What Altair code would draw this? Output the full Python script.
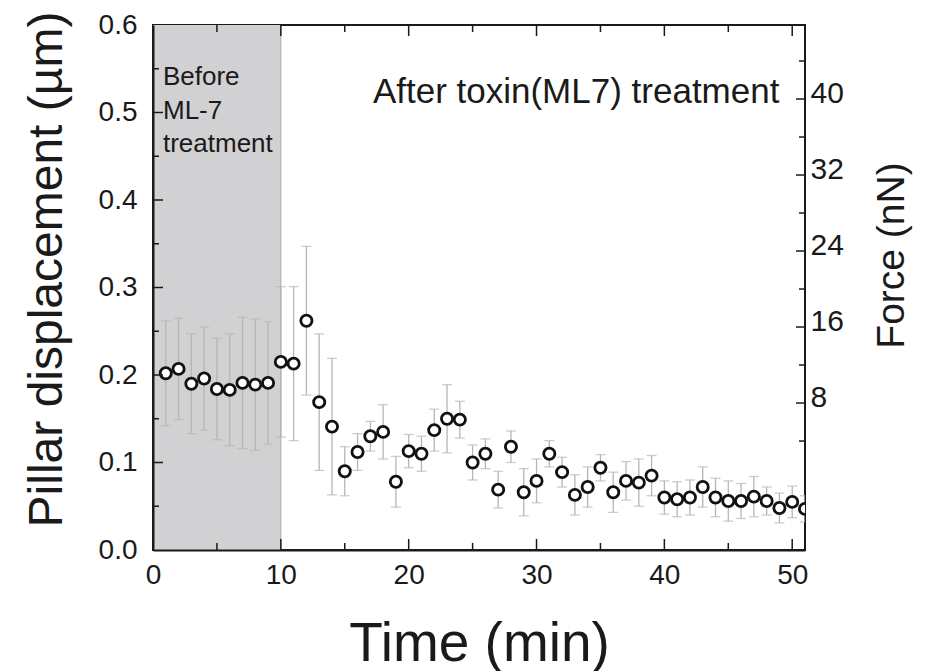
import altair as alt
import pandas as pd

# ---------------- data ----------------
time_min = list(range(1, 52))
displacement = [0.202, 0.207, 0.190, 0.196, 0.184, 0.183, 0.191, 0.189, 0.191, 0.215,
                0.213, 0.262, 0.169, 0.141, 0.090, 0.112, 0.130, 0.135, 0.078, 0.113,
                0.110, 0.137, 0.150, 0.149, 0.100, 0.110, 0.069, 0.118, 0.066, 0.079,
                0.110, 0.089, 0.063, 0.072, 0.094, 0.066, 0.079, 0.077, 0.085, 0.060,
                0.058, 0.060, 0.072, 0.060, 0.056, 0.056, 0.061, 0.056, 0.048, 0.055, 0.047]
error = [0.060, 0.058, 0.057, 0.059, 0.058, 0.064, 0.075, 0.075, 0.070, 0.086,
         0.088, 0.085, 0.078, 0.078, 0.028, 0.021, 0.017, 0.031, 0.029, 0.019,
         0.020, 0.024, 0.039, 0.021, 0.020, 0.017, 0.021, 0.018, 0.027, 0.025,
         0.015, 0.017, 0.023, 0.023, 0.015, 0.023, 0.022, 0.027, 0.023, 0.019,
         0.020, 0.020, 0.023, 0.022, 0.023, 0.020, 0.023, 0.016, 0.017, 0.018, 0.015]

x_labels = [0, 10, 20, 30, 40, 50]
x_major = [10, 20, 30, 40, 50]
x_minor = [5, 15, 25, 35, 45]
y_labels = [0.0, 0.1, 0.2, 0.3, 0.4, 0.5, 0.6]
y_major = [0.1, 0.2, 0.3, 0.4, 0.5]
y_minor = [0.05, 0.15, 0.25, 0.35, 0.45, 0.55]
force_major = [8, 16, 24, 32, 40]
force_minor = [4, 12, 20, 28, 36, 44]

shade_start, shade_end = 0, 10
before_label = "Before\nML-7\ntreatment"
after_label = "After toxin(ML7) treatment"
x_title = "Time (min)"
y_title = "Pillar displacement  (µm)"
f_title = "Force (nN)"

# ---------------- styling ----------------
FONT = "Liberation Sans"
INK = "#1a1a1a"
GREY_BAR = "#b6b6b6"
SHADE = "#d1d0d2"

x_scale = alt.Scale(domain=[0, 51], nice=False, zero=False)
y_scale = alt.Scale(domain=[0, 0.6], nice=False, zero=False)
f_scale = alt.Scale(domain=[-7.47, 47.79], nice=False, zero=False)

df = pd.DataFrame({"t": time_min, "d": displacement, "e": error})
df["lo"] = df["d"] - df["e"]
df["hi"] = df["d"] + df["e"]

one = pd.DataFrame({"k": [0]})

x_axis = alt.Axis(values=x_labels, title=x_title, tickSize=0, labelPadding=11,
                  labelFontSize=28, titleFontSize=55, titleY=110,
                  titleBaseline="alphabetic", domain=True, domainColor=INK,
                  domainWidth=2, grid=False, zindex=1, labelFlush=False,
                  labelOverlap=False)
y_axis = alt.Axis(values=y_labels, format=".1f", title=y_title, tickSize=0,
                  labelPadding=16, labelFontSize=28, titleFontSize=48,
                  titleAngle=270, titleBaseline="alphabetic", titleX=-92,
                  titleY=244, domain=True, domainColor=INK, domainWidth=2,
                  grid=False, zindex=1, labelFlush=False, labelOverlap=False)
f_axis = alt.Axis(orient="right", values=force_major, tickSize=0,
                  labelPadding=5, labelFontSize=30, labelOffset=-6,
                  title=f_title, titleAngle=270, titleBaseline="alphabetic",
                  titleX=98, titleY=230, titleFontSize=39, domain=False,
                  grid=False, labelFlush=False, labelOverlap=False)

# shaded "before" region carries the axes (first layer)
shade = alt.Chart(pd.DataFrame({"x0": [shade_start], "x1": [shade_end],
                                "y0": [y_labels[0]], "y1": [y_labels[-1]]})).mark_rect(
    color=SHADE).encode(
    x=alt.X("x0:Q", scale=x_scale, axis=x_axis), x2="x1:Q",
    y=alt.Y("y0:Q", scale=y_scale, axis=y_axis), y2="y1:Q")

edge = alt.Chart(pd.DataFrame({"x": [shade_end]})).mark_rule(
    color="#a8a8a8", strokeWidth=1).encode(
    x=alt.X("x:Q", scale=x_scale))

err = alt.Chart(df).mark_rule(color=GREY_BAR, strokeWidth=1.3, clip=True).encode(
    x=alt.X("t:Q", scale=x_scale),
    y=alt.Y("lo:Q", scale=y_scale), y2="hi:Q")

cap_lo = alt.Chart(df).mark_tick(orient="horizontal", size=10, thickness=1.3,
                                 color=GREY_BAR, clip=True).encode(
    x=alt.X("t:Q", scale=x_scale),
    y=alt.Y("lo:Q", scale=y_scale))
cap_hi = alt.Chart(df).mark_tick(orient="horizontal", size=10, thickness=1.3,
                                 color=GREY_BAR, clip=True).encode(
    x=alt.X("t:Q", scale=x_scale),
    y=alt.Y("hi:Q", scale=y_scale))

points = alt.Chart(df).mark_point(shape="circle", filled=True, fill="white",
                                  stroke="#111111", strokeWidth=2.8, size=125,
                                  opacity=1, clip=True).encode(
    x=alt.X("t:Q", scale=x_scale),
    y=alt.Y("d:Q", scale=y_scale))

# inward tick marks (left, bottom, top)
left_major = alt.Chart(pd.DataFrame({"v": y_major})).mark_rule(
    color=INK, strokeWidth=1.5, x2Offset=10).encode(
    y=alt.Y("v:Q", scale=y_scale),
    x=alt.XDatum(0, scale=x_scale), x2=alt.X2Datum(0))
left_minor = alt.Chart(pd.DataFrame({"v": y_minor})).mark_rule(
    color=INK, strokeWidth=1.5, x2Offset=6).encode(
    y=alt.Y("v:Q", scale=y_scale),
    x=alt.XDatum(0, scale=x_scale), x2=alt.X2Datum(0))
bottom_major = alt.Chart(pd.DataFrame({"v": x_major})).mark_rule(
    color=INK, strokeWidth=1.5, y2Offset=-11).encode(
    x=alt.X("v:Q", scale=x_scale),
    y=alt.YDatum(0, scale=y_scale), y2=alt.Y2Datum(0))
bottom_minor = alt.Chart(pd.DataFrame({"v": x_minor})).mark_rule(
    color=INK, strokeWidth=1.5, y2Offset=-7).encode(
    x=alt.X("v:Q", scale=x_scale),
    y=alt.YDatum(0, scale=y_scale), y2=alt.Y2Datum(0))
top_major = alt.Chart(pd.DataFrame({"v": x_major})).mark_rule(
    color=INK, strokeWidth=1.5, y2Offset=11).encode(
    x=alt.X("v:Q", scale=x_scale),
    y=alt.YDatum(0.6, scale=y_scale), y2=alt.Y2Datum(0.6))
top_minor = alt.Chart(pd.DataFrame({"v": x_minor})).mark_rule(
    color=INK, strokeWidth=1.5, y2Offset=7).encode(
    x=alt.X("v:Q", scale=x_scale),
    y=alt.YDatum(0.6, scale=y_scale), y2=alt.Y2Datum(0.6))

after_txt = alt.Chart(one).mark_text(
    text=after_label, align="left", baseline="alphabetic", fontSize=35,
    font=FONT, color=INK).encode(
    x=alt.XDatum(17.2, scale=x_scale),
    y=alt.YDatum(0.511, scale=y_scale))

before_txt = alt.Chart(one).mark_text(
    text=before_label, lineBreak="\n", lineHeight=33.5, align="left",
    baseline="alphabetic", fontSize=26, font=FONT, color=INK).encode(
    x=alt.XDatum(0.78, scale=x_scale),
    y=alt.YDatum(0.531, scale=y_scale))

main = alt.layer(shade, edge, err, cap_lo, cap_hi, points,
                 left_major, left_minor, bottom_major, bottom_minor,
                 top_major, top_minor, after_txt, before_txt)

right_major = alt.Chart(pd.DataFrame({"f": force_major})).mark_rule(
    color=INK, strokeWidth=1.5, x2Offset=-9).encode(
    y=alt.Y("f:Q", scale=f_scale, axis=f_axis),
    x=alt.XDatum(51, scale=x_scale), x2=alt.X2Datum(51))
right_minor = alt.Chart(pd.DataFrame({"f": force_minor})).mark_rule(
    color=INK, strokeWidth=1.5, x2Offset=-6).encode(
    y=alt.Y("f:Q", scale=f_scale),
    x=alt.XDatum(51, scale=x_scale), x2=alt.X2Datum(51))

force = alt.layer(right_major, right_minor)

chart = alt.layer(main, force).resolve_scale(y="independent").properties(
    width=652, height=525,
    padding={"left": 153, "top": 25, "right": 124, "bottom": 121},
    autosize=alt.AutoSizeParams(type="none"),
    background="white",
).configure_view(
    stroke=INK, strokeWidth=2
).configure_axis(
    labelFont=FONT, titleFont=FONT, labelColor=INK, titleColor=INK,
    titleFontWeight="normal"
).configure_text(font=FONT)

chart.save("out.html", embed_options={"renderer": "svg", "actions": False})
